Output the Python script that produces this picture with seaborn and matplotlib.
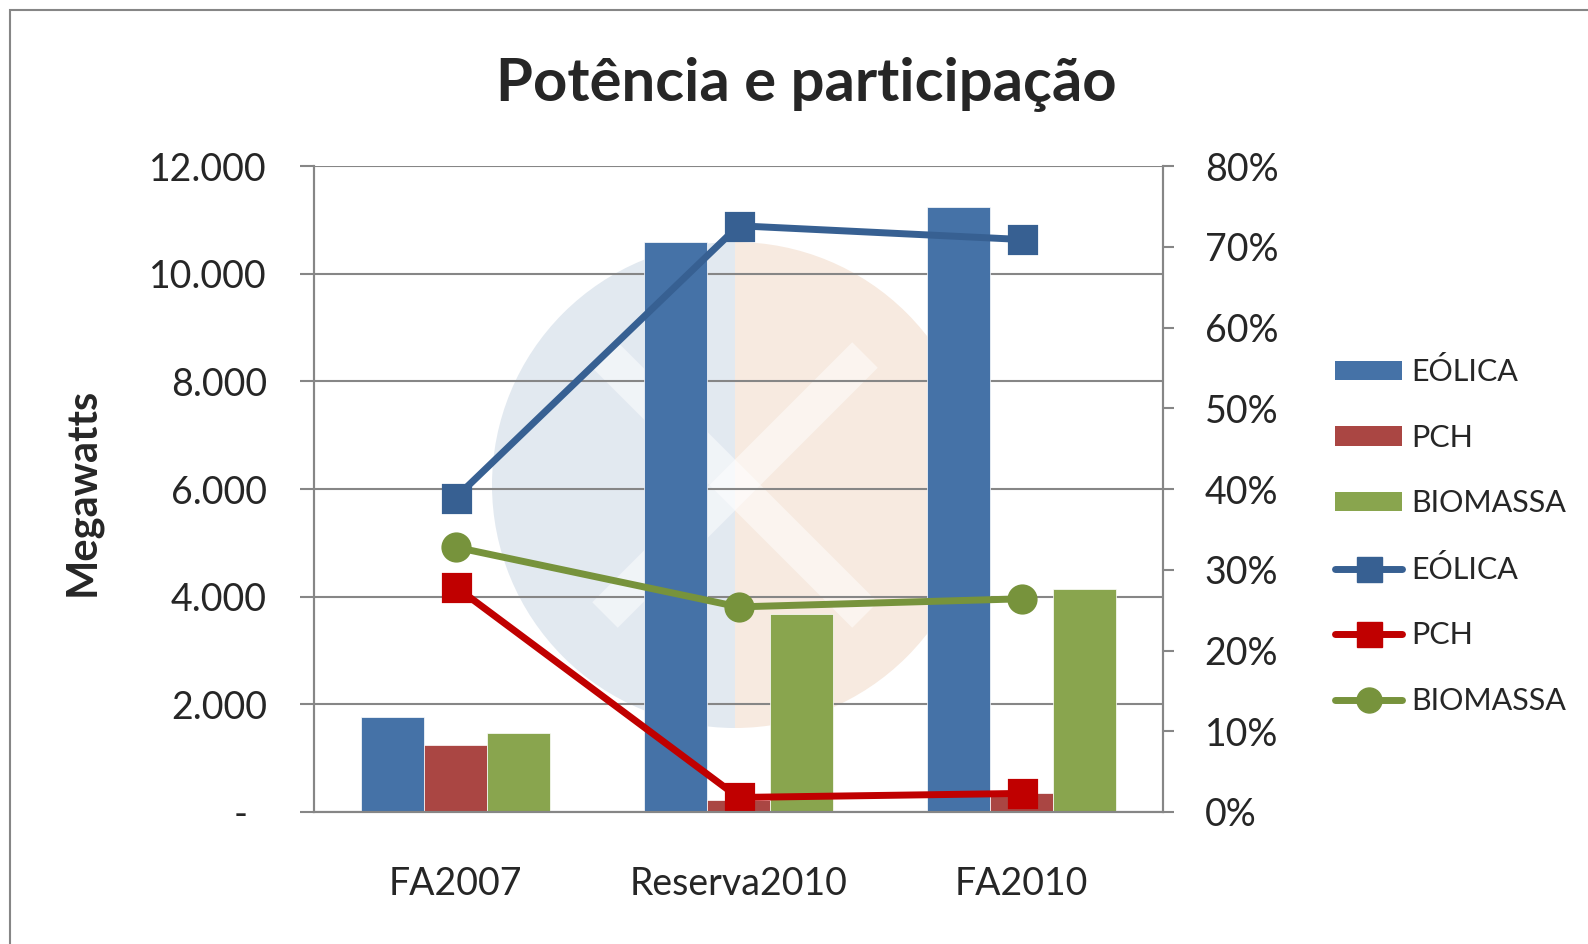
import numpy as np
import pandas as pd
import seaborn as sns
import matplotlib
matplotlib.use('Agg')
import matplotlib.pyplot as plt
from matplotlib.patches import Patch, Wedge, Rectangle
from matplotlib.lines import Line2D
from matplotlib.ticker import FuncFormatter, MultipleLocator

# dados
leiloes = ['FA2007', 'Reserva2010', 'FA2010']
fontes = ['EÓLICA', 'PCH', 'BIOMASSA']
eolica_mw = [1760, 10580, 11230]
pch_mw = [1250, 225, 360]
biomassa_mw = [1460, 3680, 4140]
eolica_pct = [38.9, 72.6, 70.9]
pch_pct = [27.9, 1.8, 2.3]
biomassa_pct = [32.8, 25.4, 26.4]

cores_barra = ['#4572A7', '#AA4643', '#89A54E']
cores_linha = ['#376092', '#C00000', '#77933C']
cinza = '#868686'

df_mw = pd.DataFrame({
    'leilao': leiloes * 3,
    'fonte': np.repeat(fontes, 3),
    'mw': eolica_mw + pch_mw + biomassa_mw,
})
df_pct = pd.DataFrame({
    'leilao': leiloes * 3,
    'fonte': np.repeat(fontes, 3),
    'pct': eolica_pct + pch_pct + biomassa_pct,
})

sns.set_style('white')
plt.rcParams['font.family'] = ['Lato', 'DejaVu Sans']

W, H = 1588, 944
fig = plt.figure(figsize=(W / 100, H / 100), dpi=100)
ax = fig.add_axes([314 / W, 1 - 812 / H, (1163 - 314) / W, (812 - 166) / H])
ax.patch.set_alpha(0)

# marca d'agua (logo de fundo)
cx, cy, r = 735 / 100, (H - 485) / 100, 2.43
fig.add_artist(Wedge((cx, cy), r, 90, 270, transform=fig.dpi_scale_trans,
                     facecolor='#e2e9f0', edgecolor='none', zorder=-2))
fig.add_artist(Wedge((cx, cy), r, -90, 90, transform=fig.dpi_scale_trans,
                     facecolor='#f7eae0', edgecolor='none', zorder=-2))
d = 1.3
for sx in (1, -1):
    fig.add_artist(Line2D([cx - sx * d, cx + sx * d], [cy + d, cy - d],
                          transform=fig.dpi_scale_trans, color='white', alpha=0.5,
                          lw=26, solid_capstyle='butt', zorder=-1))
# moldura
fig.add_artist(Rectangle((10 / W, -0.1), 1.2, 1 - 10 / H + 0.1, transform=fig.transFigure,
                         fill=False, edgecolor=cinza, lw=1.5, zorder=5))

sns.barplot(data=df_mw, x='leilao', y='mw', hue='fonte', order=leiloes, hue_order=fontes,
            palette=cores_barra, saturation=1, width=2 / 3, edgecolor='white', linewidth=0.5,
            legend=False, ax=ax)
ax.set_ylim(0, 12000)
ax.yaxis.set_major_locator(MultipleLocator(2000))
ax.yaxis.set_major_formatter(FuncFormatter(
    lambda v, p: '-  ' if v == 0 else f'{v:,.0f}'.replace(',', '.')))
ax.set_axisbelow(True)
ax.grid(axis='y', color=cinza, lw=1.5)
ax.grid(axis='x', visible=False)

ax2 = ax.twinx()
sns.pointplot(data=df_pct, x='leilao', y='pct', hue='fonte', order=leiloes, hue_order=fontes,
              palette=cores_linha, markers=['s', 's', 'o'], linestyles='-', dodge=False,
              errorbar=None, markersize=18, linewidth=5, legend=False, ax=ax2)
ax2.set_ylim(0, 80)
ax2.yaxis.set_major_locator(MultipleLocator(10))
ax2.yaxis.set_major_formatter(FuncFormatter(lambda v, p: f'{v:.0f}%'))
ax2.grid(False)

for a in (ax, ax2):
    a.set_xlim(-0.5, 2.5)
    for s in a.spines.values():
        s.set_color(cinza)
        s.set_linewidth(1.5)
    a.spines['top'].set_visible(False)
    a.set_xlabel('')
ax2.set_ylabel('')

ax.set_xticks(range(len(leiloes)))
ax.set_xticklabels(leiloes)
ax.set_xticks([-0.5, 0.5, 1.5, 2.5], minor=True)
ax.tick_params(axis='x', which='major', length=0, pad=39, labelsize=27)
ax.tick_params(axis='x', which='minor', length=11, width=1.5, color=cinza, direction='out')
ax.tick_params(axis='y', length=10, width=1.5, color=cinza, direction='out', pad=24,
               labelsize=27, left=True)
ax2.tick_params(axis='y', length=8, width=1.5, color=cinza, direction='out', pad=22,
                labelsize=27, right=True)

ax.set_ylabel('')
fig.text(0.052, 0.479, 'Megawatts', rotation=90, ha='center', va='center',
         fontsize=30, fontweight='bold')
fig.text(0.508, 0.911, 'Potência e participação', ha='center', va='center',
         fontsize=43, fontweight='bold')

handles = [Patch(facecolor=c, edgecolor='none') for c in cores_barra]
handles += [Line2D([], [], color=c, lw=5, marker=m, markersize=18)
            for c, m in zip(cores_linha, ['s', 's', 'o'])]
fig.legend(handles, fontes + fontes, loc='center left', bbox_to_anchor=(1335 / W, 1 - 536 / H),
           frameon=False, fontsize=22, handlelength=2.2, handleheight=0.6,
           handletextpad=0.3, labelspacing=1.23, borderpad=0, borderaxespad=0)

fig.savefig('out.png', dpi=100)
